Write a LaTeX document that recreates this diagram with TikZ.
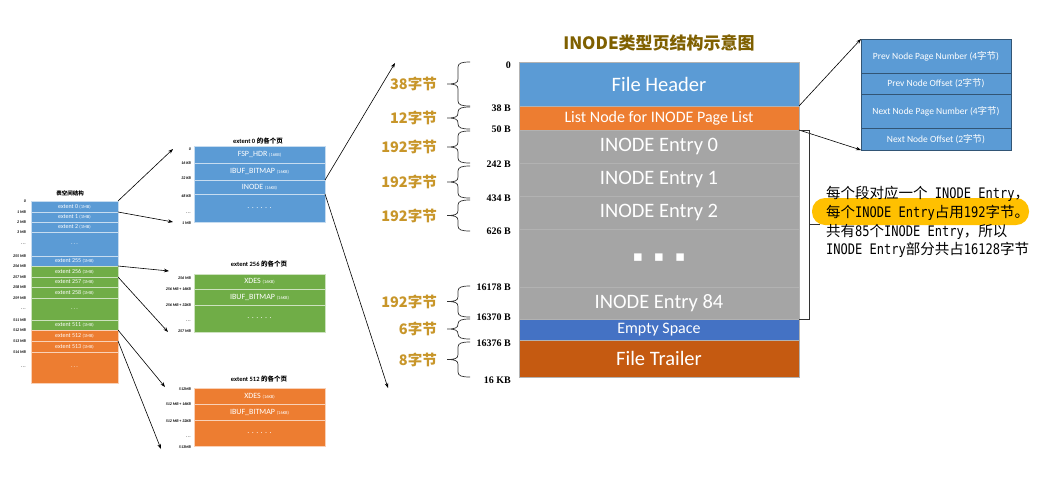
\documentclass[tikz,border=0pt]{standalone}
\usepackage{fontspec}
\setmainfont{Carlito}
\newfontfamily\cjk{Noto Sans CJK SC}
\newfontfamily\offsetfont{Liberation Serif}
\newfontfamily\annmono[FakeStretch=0.83]{DejaVu Sans Mono}
\newfontfamily\symfont{DejaVu Sans}
\usetikzlibrary{arrows.meta,calc,positioning}

\definecolor{hdrblue}{HTML}{5B9BD5}
\definecolor{lnorange}{HTML}{ED7D31}
\definecolor{entgray}{HTML}{A5A5A5}
\definecolor{empblue}{HTML}{4472C4}
\definecolor{trlorange}{HTML}{C55A11}
\definecolor{extgreen}{HTML}{70AD47}
\definecolor{titlebrown}{HTML}{7F6000}
\definecolor{bytegold}{HTML}{C8962A}
\definecolor{hlyellow}{HTML}{FFC000}

\newcommand{\unitsz}[1]{{\fontsize{4.5}{5}\selectfont #1}}
\newcommand{\zijie}{{\cjk 字节}}
\newcommand{\cjkt}[1]{{\cjk #1}}
\newcommand{\latt}[1]{{\annmono #1}}
\newcommand{\tdots}{.\,.\,.}

\tikzset{
  ptr/.style={-{Stealth[length=5pt,width=3.6pt]}, line width=0.6pt},
  extcell/.style={fill=#1, draw=#1!35, line width=0.5pt, text=white, minimum width=87pt,
    inner sep=0pt, outer sep=0pt, font=\fontsize{6}{7}\selectfont},
  midcell/.style={fill=#1, draw=#1!35, line width=0.6pt, text=white, minimum width=131pt,
    inner sep=0pt, outer sep=0pt, font=\fontsize{8}{9}\selectfont},
  pagecell/.style={fill=#1, draw=black!30, line width=0.6pt, text=white, minimum width=280pt,
    inner sep=0pt, outer sep=0pt},
  listcell/.style={fill=hdrblue, draw=hdrblue!55!black, line width=0.6pt, text=white,
    minimum width=150pt, inner sep=0pt, outer sep=0pt, font=\fontsize{9.5}{11}\selectfont},
  bigtxt/.style={font=\fontsize{20.5}{24}\selectfont},
  midtxt/.style={font=\fontsize{16}{19}\selectfont},
  tinylbl/.style={anchor=east, inner sep=0pt, font=\bfseries\itshape\fontsize{4}{5}\selectfont},
  exttitle/.style={inner sep=0pt, font=\bfseries\fontsize{6.5}{8}\selectfont},
  offlbl/.style={anchor=east, inner sep=0pt, font=\offsetfont\bfseries\fontsize{10}{12}\selectfont},
  bytelbl/.style={anchor=east, inner sep=0pt, text=bytegold, font=\cjk\bfseries\fontsize{14.5}{17}\selectfont},
  bracestroke/.style={line width=0.7pt, black!80},
  annline/.style={anchor=west, inner sep=0pt, font=\fontsize{14.5}{17}\selectfont},
}

% curly brace with its byte count: name, top, bottom, text
\newcommand{\bytebrace}[4]{%
  \pgfmathsetmacro{\bm}{(#2+#3)/2}
  \draw[bracestroke] (470,#2) .. controls (462,#2) and (458,{#2+1}) .. (458,{#2+5})
    -- (458,{\bm-5}) .. controls (458,{\bm-1}) and (455,\bm) .. (447,\bm)
    .. controls (455,\bm) and (458,{\bm+1}) .. (458,{\bm+5})
    -- (458,{#3-5}) .. controls (458,{#3-1}) and (462,#3) .. (470,#3);
  \node[bytelbl] (#1) at (437,\bm) {#4};
}

\begin{document}
\begin{tikzpicture}[x=1pt,y=-1pt]
\useasboundingbox[fill=white] (0,0) rectangle (1056,488);

% table space
\node[exttitle, font=\cjk\bfseries\fontsize{5.5}{6}\selectfont] (tsttl) at (70,193) {表空间结构};
\foreach \nm/\ya/\yb/\col/\txt in {
  s0/201/212/hdrblue/{extent 0 \unitsz{(1MB)}},
  s1/212/222/hdrblue/{extent 1 \unitsz{(1MB)}},
  s2/222/232/hdrblue/{extent 2 \unitsz{(1MB)}},
  sa/232/256/hdrblue/{\tdots},
  s255/256/266/hdrblue/{extent 255 \unitsz{(1MB)}},
  s256/266/277/extgreen/{extent 256 \unitsz{(1MB)}},
  s257/277/287/extgreen/{extent 257 \unitsz{(1MB)}},
  s258/287/298/extgreen/{extent 258 \unitsz{(1MB)}},
  sb/298/320/extgreen/{\tdots},
  s511/320/330/extgreen/{extent 511 \unitsz{(1MB)}},
  s512/330/341/lnorange/{extent 512 \unitsz{(1MB)}},
  s513/341/352/lnorange/{extent 513 \unitsz{(1MB)}},
  sc/352/383/lnorange/{\tdots}}
{
  \pgfmathsetmacro{\hgt}{\yb-\ya}
  \node[extcell=\col, minimum height=\hgt pt, anchor=north] (\nm) at (74.5,\ya) {\txt};
}
\foreach \nm/\y/\lbl in {0/201/0, 1/212/1 MB, 2/222/2 MB, 3/232/3 MB, a/244/{\tdots}, 255/256/255 MB,
    256/266/256 MB, 257/277/257 MB, 258/287/258 MB, 259/298/259 MB, b/309/{\tdots}, 511/320/511 MB,
    512/330/512 MB, 513/341/513 MB, 514/352/514 MB, c/367/{\tdots}}
  \node[tinylbl] (sl\nm) at (26,\y) {\lbl};

% pages of extent 0
\node[exttitle] (m0ttl) at (258,141) {extent 0 \cjkt{的各个页}};
\node[midcell=hdrblue, minimum height=17pt, anchor=north] (m0a) at (259.5,146) {FSP\_HDR \unitsz{(16KB)}};
\node[midcell=hdrblue, minimum height=17pt, below=0pt of m0a] (m0b) {IBUF\_BITMAP \unitsz{(16KB)}};
\node[midcell=hdrblue, minimum height=14pt, below=0pt of m0b] (m0c) {INODE \unitsz{(16KB)}};
\node[midcell=hdrblue, minimum height=28pt, below=0pt of m0c] (m0d) {. . . . . .};
\foreach \nm/\y/\lbl in {a/149/0, b/163/16 KB, c/178/32 KB, d/196/48 KB, e/213/{\tdots}, f/223/1 MB}
  \node[tinylbl] (ml0\nm) at (191,\y) {\lbl};

% pages of extent 256
\node[exttitle] (m1ttl) at (259,264) {extent 256 \cjkt{的各个页}};
\node[midcell=extgreen, minimum height=15pt, anchor=north] (m1a) at (259.5,274) {XDES \unitsz{(16KB)}};
\node[midcell=extgreen, minimum height=16pt, below=0pt of m1a] (m1b) {IBUF\_BITMAP \unitsz{(16KB)}};
\node[midcell=extgreen, minimum height=27pt, below=0pt of m1b] (m1d) {. . . . . .};
\foreach \nm/\y/\lbl in {a/278/256 MB, b/289/256 MB + 16KB, c/305/256 MB + 32KB, e/321/{\tdots}, f/331/257 MB}
  \node[tinylbl] (ml1\nm) at (191,\y) {\lbl};

% pages of extent 512
\node[exttitle] (m2ttl) at (259,379) {extent 512 \cjkt{的各个页}};
\node[midcell=lnorange, minimum height=16pt, anchor=north] (m2a) at (259.5,388) {XDES \unitsz{(16KB)}};
\node[midcell=lnorange, minimum height=16pt, below=0pt of m2a] (m2b) {IBUF\_BITMAP \unitsz{(16KB)}};
\node[midcell=lnorange, minimum height=26pt, below=0pt of m2b] (m2d) {. . . . . .};
\foreach \nm/\y/\lbl in {a/389/512MB, b/404/512 MB + 16KB, c/421/512 MB + 32KB, e/437/{\tdots}, f/447/513MB}
  \node[tinylbl] (ml2\nm) at (191,\y) {\lbl};

% extents -> pages
\coordinate (t0) at (173,149);
\coordinate (t1) at (173,222);
\coordinate (t256) at (169,271);
\coordinate (t257) at (168,332);
\coordinate (t512) at (165,387);
\coordinate (t513) at (161,449);
\draw[ptr] (s0.north east) -- (t0);
\draw[ptr] (s1.north east) -- (t1);
\draw[ptr] (s256.north east) -- (t256);
\draw[ptr] (s257.north east) -- (t257);
\draw[ptr] (s512.north east) -- (t512);
\draw[ptr] (s513.north east) -- (t513);

% INODE page
\coordinate (tpg) at (395,63);
\coordinate (bpg) at (388,388);
\draw[ptr] (m0c.north east) -- (tpg);
\draw[ptr] (m0c.south east) -- (bpg);

\node[font=\cjk\bfseries\fontsize{17}{20}\selectfont, text=titlebrown, inner sep=0pt] (pgttl) at (659,43) {INODE类型页结构示意图};
\node[pagecell=hdrblue, bigtxt, minimum height=44pt, anchor=north] (fh) at (659,62) {File Header};
\node[pagecell=lnorange, midtxt, minimum height=24pt, below=0pt of fh] (ln) {List Node for INODE Page List};
\node[pagecell=entgray, bigtxt, minimum height=33pt, below=0pt of ln] (en0) {INODE Entry 0};
\node[pagecell=entgray, bigtxt, minimum height=33pt, below=0pt of en0] (en1) {INODE Entry 1};
\node[pagecell=entgray, bigtxt, minimum height=33pt, below=0pt of en1] (en2) {INODE Entry 2};
\node[pagecell=entgray, minimum height=58pt, below=0pt of en2] (edots) {};
\node[pagecell=entgray, bigtxt, minimum height=32pt, below=0pt of edots] (en84) {INODE Entry 84};
\node[pagecell=empblue, midtxt, minimum height=21pt, below=0pt of en84] (es) {Empty Space};
\node[pagecell=trlorange, bigtxt, minimum height=37pt, below=0pt of es] (ft) {File Trailer};
\node[text=white, inner sep=0pt, font=\symfont\fontsize{15}{16}\selectfont] (dotsx) at (edots.center) {▪\hspace{11pt}▪\hspace{11pt}▪};

\foreach \nm/\y/\lbl in {0/65/0, 38/108/38 B, 50/129/50 B, 242/164/242 B, 434/198/434 B, 626/231/626 B,
    16178/287/16178 B, 16370/317/16370 B, 16376/343/16376 B, 16k/380/16 KB}
  \node[offlbl] (off\nm) at (511,\y) {\lbl};

\bytebrace{bz1}{62}{106}{38字节}
\bytebrace{bz2}{107}{129}{12字节}
\bytebrace{bz3}{131}{163}{192字节}
\bytebrace{bz4}{166}{198}{192字节}
\bytebrace{bz5}{200}{231}{192字节}
\bytebrace{bz6}{286}{317}{192字节}
\bytebrace{bz7}{319}{339}{6字节}
\bytebrace{bz8}{342}{377}{8字节}

% list node fields
\node[listcell, minimum height=34pt, anchor=north] (lb1) at (936,39) {Prev Node Page Number (4\zijie)};
\node[listcell, minimum height=21pt, below=0pt of lb1] (lb2) {Prev Node Offset (2\zijie)};
\node[listcell, minimum height=34pt, below=0pt of lb2] (lb3) {Next Node Page Number (4\zijie)};
\node[listcell, minimum height=22pt, below=0pt of lb3] (lb4) {Next Node Offset (2\zijie)};
\draw[ptr] (ln.north east) -- (lb1.north west);
\draw[ptr] (ln.south east) -- (lb4.south west);

% note on the entries
\draw[bracestroke] (en0.north east) -- ++(10,0) |- (en84.south east);
\draw[bracestroke] ($(en0.north east)!0.5!(en84.south east)+(10,0)$) -- ++(11,0);
\fill[hlyellow, rounded corners=13pt] (812,198) rectangle (1029,225);
\node[annline] (an1) at (826,194) {\cjkt{每个段对应一个}\latt{\ INODE Entry}\cjkt{，}};
\node[annline] (an2) at (826,213) {\cjkt{每个}\latt{INODE Entry}\cjkt{占用}\latt{192}\cjkt{字节。}};
\node[annline] (an3) at (826,232) {\cjkt{共有}\latt{85}\cjkt{个}\latt{INODE Entry}\cjkt{，所以}};
\node[annline] (an4) at (826,250) {\latt{INODE Entry}\cjkt{部分共占}\latt{16128}\cjkt{字节}};
\end{tikzpicture}
\end{document}
